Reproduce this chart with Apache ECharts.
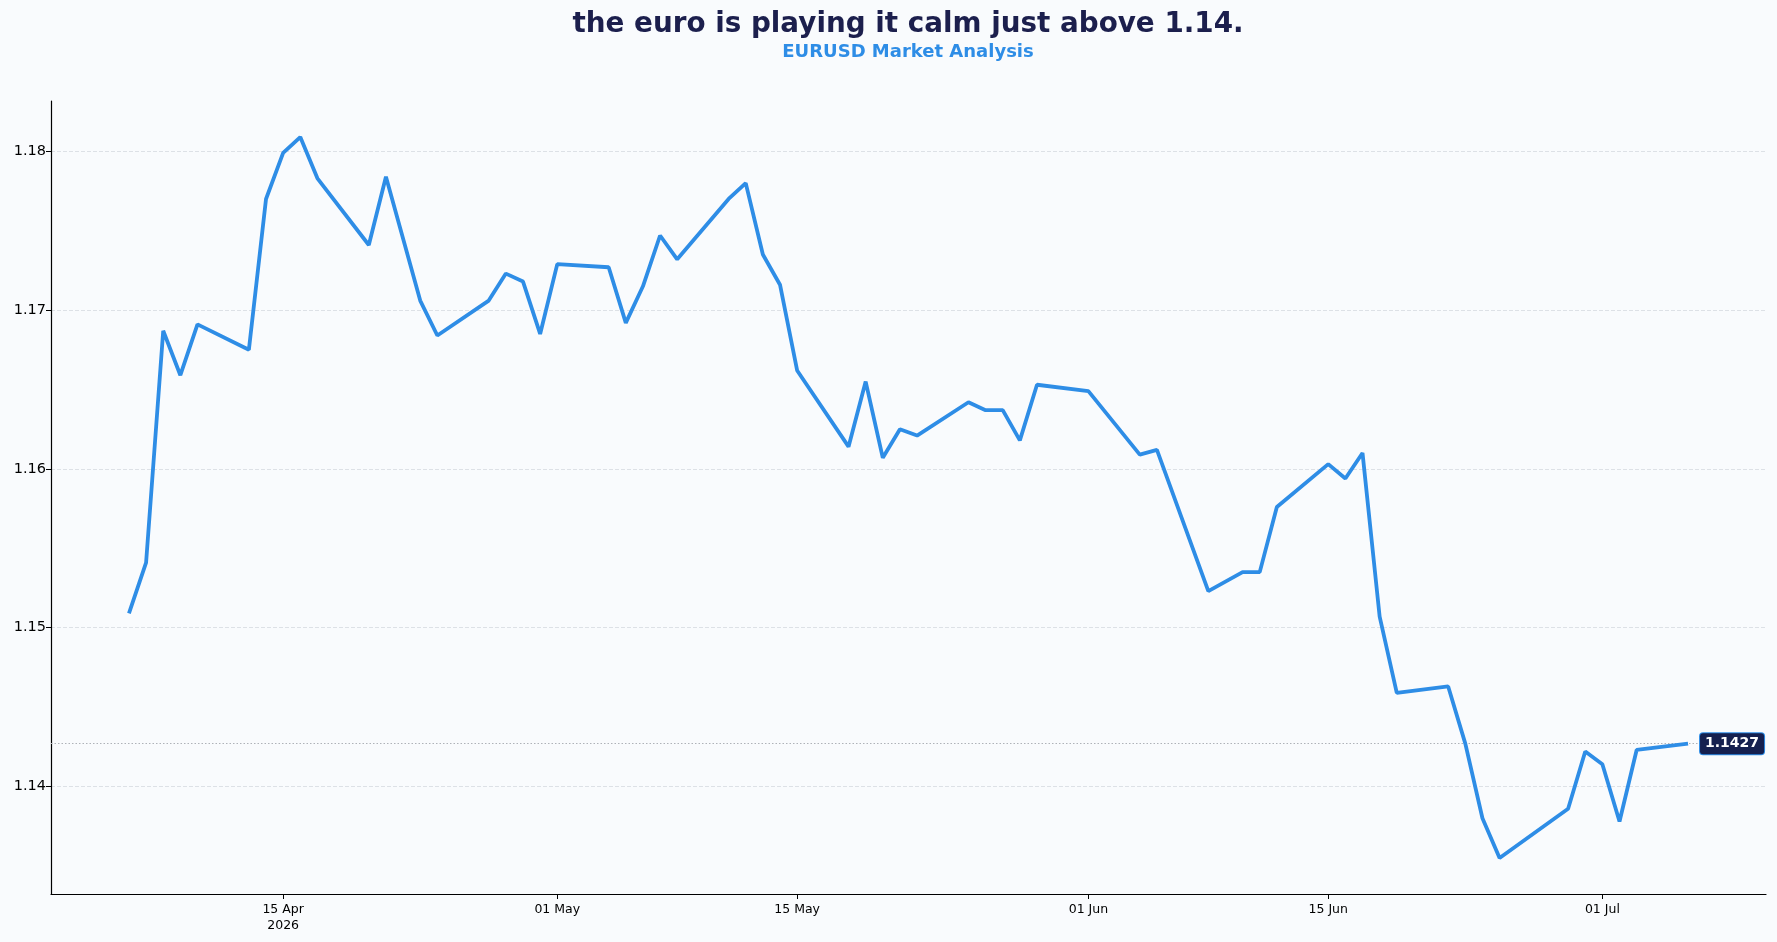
<!DOCTYPE html>
<html>
<head>
<meta charset="utf-8">
<title>EURUSD</title>
<script src="https://cdn.jsdelivr.net/npm/echarts@6/dist/echarts.min.js"></script>
<style>
  html, body { margin: 0; padding: 0; background: #f9fbfd; }
  #chart { width: 1777px; height: 942px; }
</style>
</head>
<body>
<div id="chart"></div>
<script>
// data (trading days only)
var dates = [
  '2026-04-06','2026-04-07','2026-04-08','2026-04-09','2026-04-10',
  '2026-04-13','2026-04-14','2026-04-15','2026-04-16','2026-04-17',
  '2026-04-20','2026-04-21','2026-04-23','2026-04-24',
  '2026-04-27','2026-04-28','2026-04-29','2026-04-30','2026-05-01',
  '2026-05-04','2026-05-05','2026-05-06','2026-05-07','2026-05-08',
  '2026-05-11','2026-05-12','2026-05-13','2026-05-14','2026-05-15',
  '2026-05-18','2026-05-19','2026-05-20','2026-05-21','2026-05-22',
  '2026-05-25','2026-05-26','2026-05-27','2026-05-28','2026-05-29',
  '2026-06-01','2026-06-04','2026-06-05',
  '2026-06-08','2026-06-09','2026-06-10','2026-06-11','2026-06-12',
  '2026-06-15','2026-06-16','2026-06-17','2026-06-18','2026-06-19',
  '2026-06-22','2026-06-23','2026-06-24','2026-06-25',
  '2026-06-29','2026-06-30','2026-07-01','2026-07-02','2026-07-03',
  '2026-07-06'
];
var closes = [
  1.1509, 1.1541, 1.1687, 1.1659, 1.1691,
  1.1675, 1.1770, 1.1799, 1.1809, 1.1783,
  1.1741, 1.1784, 1.1706, 1.1684,
  1.1706, 1.1723, 1.1718, 1.1685, 1.1729,
  1.1727, 1.1692, 1.1715, 1.1747, 1.1732,
  1.1770, 1.1780, 1.1735, 1.1716, 1.1662,
  1.1614, 1.1655, 1.1607, 1.1625, 1.1621,
  1.1642, 1.1637, 1.1637, 1.1618, 1.1653,
  1.1649, 1.1609, 1.1612,
  1.1523, 1.1529, 1.1535, 1.1535, 1.1576,
  1.1603, 1.1594, 1.1610, 1.1507, 1.1459,
  1.1463, 1.1427, 1.1380, 1.1355,
  1.1386, 1.1422, 1.1414, 1.1378, 1.1423,
  1.1427
];
var xTicks = ['2026-04-15','2026-05-01','2026-05-15','2026-06-01','2026-06-15','2026-07-01'];
var yTicks = [1.14, 1.15, 1.16, 1.17, 1.18];
var monthNames = ['Jan','Feb','Mar','Apr','May','Jun','Jul','Aug','Sep','Oct','Nov','Dec'];

function toTime(s) {
  var p = s.split('-');
  return new Date(+p[0], +p[1] - 1, +p[2]).getTime();
}

var seriesData = dates.map(function (d, i) { return [toTime(d), closes[i]]; });
var lastPoint = seriesData[seriesData.length - 1];
var xTickTimes = xTicks.map(toTime);

// 5% margins like the original plot
var minV = Math.min.apply(null, closes), maxV = Math.max.apply(null, closes);
var padV = (maxV - minV) * 0.05;
var t0 = seriesData[0][0], t1 = lastPoint[0];
var padT = (t1 - t0) * 0.05;
var xMin = t0 - padT, xMax = t1 + padT;

var chart = echarts.init(document.getElementById('chart'));

var option = {
  backgroundColor: '#f9fbfd',
  animation: false,
  title: {
    text: 'the euro is playing it calm just above 1.14.',
    subtext: 'EURUSD Market Analysis',
    left: 903,
    textAlign: 'center',
    top: 6,
    itemGap: 4,
    textStyle: { fontFamily: 'DejaVu Sans', fontWeight: 'bold', fontSize: 27.8, color: '#1c1f4d' },
    subtextStyle: { fontFamily: 'DejaVu Sans', fontWeight: 'bold', fontSize: 18, color: '#2e8de6' }
  },
  grid: { left: 51, right: 11, top: 101, bottom: 48 },
  xAxis: {
    type: 'value',
    min: xMin,
    max: xMax,
    axisLine: { show: true, lineStyle: { color: '#000', width: 1.2 } },
    axisTick: { show: true, length: 5, lineStyle: { color: '#000' }, customValues: xTickTimes },
    axisLabel: {
      customValues: xTickTimes,
      fontFamily: 'DejaVu Sans', fontSize: 12.5, color: '#000', margin: 8, lineHeight: 16,
      formatter: function (val) {
        var d = new Date(val);
        var day = (d.getDate() < 10 ? '0' : '') + d.getDate();
        var s = day + ' ' + monthNames[d.getMonth()];
        if (Math.abs(val - xTickTimes[0]) < 1000) s += '\n' + d.getFullYear();
        return s;
      }
    },
    splitLine: { show: false }
  },
  yAxis: {
    type: 'value',
    min: minV - padV,
    max: maxV + padV,
    axisLine: { show: true, lineStyle: { color: '#000', width: 1.2 } },
    axisTick: { show: true, length: 5, lineStyle: { color: '#000' }, customValues: yTicks },
    axisLabel: {
      customValues: yTicks,
      fontFamily: 'DejaVu Sans', fontSize: 14.5, color: '#000', margin: 5,
      formatter: function (v) { return v.toFixed(2); }
    },
    splitLine: { show: true, lineStyle: { color: '#d6dae0', type: [4, 2], width: 0.8 } }
  },
  series: [{
    name: 'EURUSD',
    type: 'line',
    data: seriesData,
    showSymbol: false,
    symbol: 'none',
    z: 3,
    lineStyle: { color: '#2e8de6', width: 3.8 },
    itemStyle: { color: '#2e8de6' },
    markLine: {
      silent: true,
      symbol: 'none',
      z: 1,
      lineStyle: { color: '#aeb2b8', type: [1.5, 2], width: 1 },
      label: { show: false },
      data: [[{ coord: [xMin, lastPoint[1]] }, { coord: [xMax, lastPoint[1]] }]]
    },
    markPoint: {
      silent: true,
      data: [{
        coord: lastPoint,
        symbol: 'circle',
        symbolSize: 0,
        label: {
          show: true,
          position: 'right',
          distance: 12,
          formatter: lastPoint[1].toFixed(4),
          fontFamily: 'DejaVu Sans', fontWeight: 'bold', fontSize: 14, color: '#fff',
          backgroundColor: '#15204f',
          borderColor: '#2e8de6', borderWidth: 1, borderRadius: 3,
          padding: [4, 5, 3, 5]
        }
      }]
    }
  }]
};

chart.setOption(option);
</script>
</body>
</html>
